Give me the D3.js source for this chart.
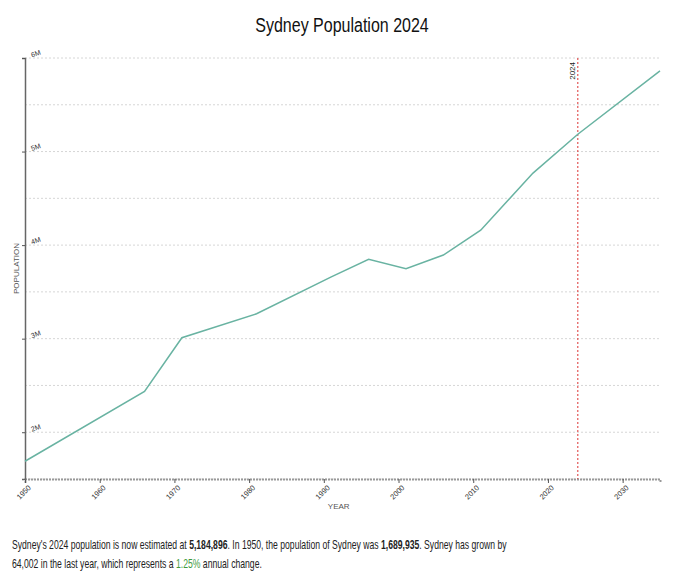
<!DOCTYPE html>
<html>
<head>
<meta charset="utf-8">
<script src="https://cdn.jsdelivr.net/npm/d3@7"></script>
<style>
  body { margin: 0; background: #fff; }
  svg { display: block; font-family: "Liberation Sans", Arial, sans-serif; }
</style>
</head>
<body>
<svg id="chart"></svg>
<script>
// population data
var years = [1950, 1966, 1971, 1981, 1991, 1996, 2001, 2006, 2011, 2018, 2024, 2035];
var population = [1689935, 2436000, 3010000, 3266000, 3660000, 3848000, 3748000, 3894000, 4160000, 4770000, 5184896, 5862000];
var yTickValues = [2000000, 3000000, 4000000, 5000000, 6000000];
var gridValues = [1500000, 2000000, 2500000, 3000000, 3500000, 4000000, 4500000, 5000000, 5500000, 6000000];
var xTickValues = [1950, 1960, 1970, 1980, 1990, 2000, 2010, 2020, 2030];
var markerYear = 2024;
var startYear = 1950;
var startPop = "1,689,935";
var currentPop = "5,184,896";
var lastYearGrowth = "64,002";
var annualChange = "1.25%";

window.onload = function(){
    drawChart();
}

function drawChart()
{
    const width = 680;
    const height = 587;
    const margin = {top: 58, right: 20, bottom: 108, left: 25};
    const font = '"Liberation Sans", Arial, sans-serif';

    const svg = d3.select("#chart")
        .attr("width", width)
        .attr("height", height);

    const data = years.map((d, i) => ({year: d, pop: population[i]}));

    const x = d3.scaleLinear()
        .domain([1950, 2035])
        .range([margin.left, width - margin.right]);

    const y = d3.scaleLinear()
        .domain([1500000, 6000000])
        .range([height - margin.bottom, margin.top]);

    // title (the original font is narrower, so squeeze it a bit)
    svg.append("text")
        .attr("transform", "translate(342,32) scale(0.8,1)")
        .attr("text-anchor", "middle")
        .attr("font-size", "20px")
        .attr("fill", "#111")
        .text("Sydney Population 2024");

    // horizontal grid lines
    svg.append("g")
        .selectAll("line")
        .data(gridValues)
        .join("line")
            .attr("x1", x(1950))
            .attr("x2", x(2035))
            .attr("y1", d => y(d))
            .attr("y2", d => y(d))
            .attr("stroke", "#d6d6d6")
            .attr("stroke-dasharray", "2,2");

    // x axis
    const xAxis = svg.append("g")
        .attr("transform", `translate(0,${y(1500000)})`)
        .attr("font-family", font)
        .call(d3.axisBottom(x).tickValues(xTickValues).tickFormat(d3.format("d")).tickSize(4));
    xAxis.select(".domain")
        .attr("stroke", "#999")
        .attr("stroke-width", 2)
        .attr("stroke-dasharray", "2,1");
    xAxis.selectAll(".tick line").attr("stroke", "#555");
    xAxis.selectAll(".tick text")
        .attr("font-size", "7.5px")
        .attr("fill", "#333")
        .attr("text-anchor", "end")
        .attr("dx", "-0.3em")
        .attr("dy", "0.5em")
        .attr("transform", "rotate(-45)");

    // y axis
    const yAxis = svg.append("g")
        .attr("transform", `translate(${margin.left},0)`)
        .attr("font-family", font)
        .call(d3.axisLeft(y).tickValues(yTickValues).tickFormat(d => d / 1000000 + "M").tickSize(3));
    yAxis.select(".domain")
        .attr("stroke", "#666")
        .attr("stroke-width", 1.5);
    yAxis.selectAll(".tick line").attr("stroke", "#555");
    yAxis.selectAll(".tick text")
        .attr("font-size", "7px")
        .attr("fill", "#333")
        .attr("text-anchor", "start")
        .attr("x", 0)
        .attr("dy", 0)
        .attr("transform", "translate(7,-1) rotate(-20)");

    // axis titles
    svg.append("text")
        .attr("x", x(1992))
        .attr("y", 509)
        .attr("text-anchor", "middle")
        .attr("font-size", "8px")
        .attr("fill", "#555")
        .text("YEAR");

    svg.append("text")
        .attr("transform", `translate(19,${(y(1500000) + y(6000000)) / 2}) rotate(-90)`)
        .attr("text-anchor", "middle")
        .attr("font-size", "8px")
        .attr("fill", "#555")
        .text("POPULATION");

    // 2024 marker
    svg.append("line")
        .attr("x1", x(markerYear))
        .attr("x2", x(markerYear))
        .attr("y1", y(6000000))
        .attr("y2", y(1500000))
        .attr("stroke", "#d33")
        .attr("stroke-width", 1)
        .attr("stroke-dasharray", "2,2");

    svg.append("text")
        .attr("transform", `translate(${x(markerYear) - 3},${y(6000000) + 4}) rotate(-90)`)
        .attr("text-anchor", "end")
        .attr("font-size", "8px")
        .attr("fill", "#222")
        .text(markerYear);

    // population line
    const line = d3.line()
        .x(d => x(d.year))
        .y(d => y(d.pop));

    svg.append("path")
        .datum(data)
        .attr("fill", "none")
        .attr("stroke", "#69b3a2")
        .attr("stroke-width", 1.5)
        .attr("d", line);

    // summary text
    const summary = svg.append("text")
        .attr("transform", "translate(12,0) scale(0.72,1)")
        .attr("font-size", "12px")
        .attr("fill", "#222");

    const line1 = summary.append("tspan").attr("x", 0).attr("y", 549);
    line1.append("tspan").text(`Sydney's ${markerYear} population is now estimated at `);
    line1.append("tspan").attr("font-weight", "bold").text(currentPop);
    line1.append("tspan").text(`. In ${startYear}, the population of Sydney was `);
    line1.append("tspan").attr("font-weight", "bold").text(startPop);
    line1.append("tspan").text(". Sydney has grown by");

    const line2 = summary.append("tspan").attr("x", 0).attr("y", 568);
    line2.append("tspan").text(`${lastYearGrowth} in the last year, which represents a `);
    line2.append("tspan").attr("fill", "#3e9a3e").text(annualChange);
    line2.append("tspan").text(" annual change.");
}
</script>
</body>
</html>
